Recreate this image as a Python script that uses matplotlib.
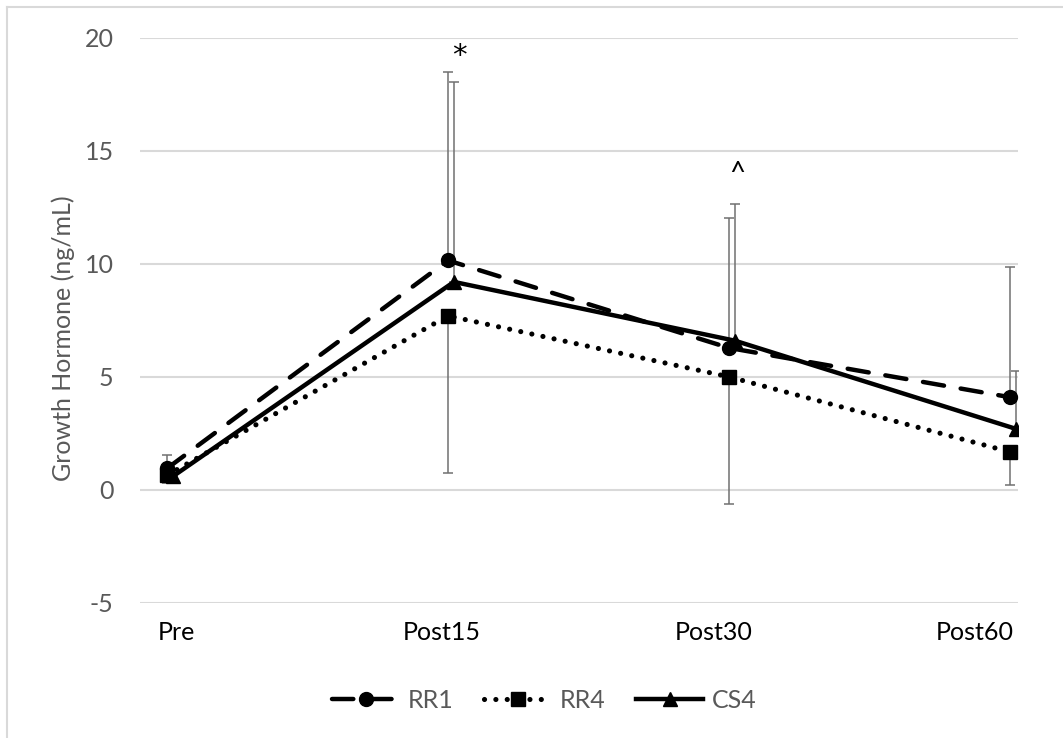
import matplotlib
matplotlib.use('Agg')
import matplotlib.pyplot as plt
from matplotlib.lines import Line2D
import numpy as np

plt.rcParams['font.family'] = ['Lato', 'DejaVu Sans']
plt.rcParams['axes.unicode_minus'] = False

timepoints = ['Pre', 'Post15', 'Post30', 'Post60']

# group means (ng/mL)
rr1 = [0.95, 10.15, 6.28, 4.1]
rr4 = [0.65, 7.7, 5.0, 1.68]
cs4 = [0.6, 9.2, 6.6, 2.7]

# one-sided SD bars: RR1 and CS4 upward, RR4 downward
rr1_err_up = [0.6, 8.35, 5.75, 5.77]
rr4_err_down = [0.35, 6.95, 5.62, 1.46]
cs4_err_up = [0.3, 8.85, 6.05, 2.57]

# significance marks
sig_marks = ['*', '^']
sig_index = [1, 2]
sig_y = [18.85, 13.6]

grid_col = '#d9d9d9'
text_col = '#595959'
err_col = '#707070'


def main():
    fig = plt.figure(figsize=(10.63, 7.38), dpi=100)
    ax = fig.add_axes([140 / 1063, 135 / 738, 878 / 1063, 565.3 / 738])

    x = np.arange(len(timepoints))
    x_cs = x + 0.021  # CS4 sits slightly to the right

    lw = 3.2
    ax.errorbar(x, rr1, yerr=[np.zeros(4), rr1_err_up], fmt='none',
                ecolor=err_col, elinewidth=1.1, capsize=3.6, capthick=1.1, zorder=2)
    ax.errorbar(x, rr4, yerr=[rr4_err_down, np.zeros(4)], fmt='none',
                ecolor=err_col, elinewidth=1.1, capsize=3.6, capthick=1.1, zorder=2)
    ax.errorbar(x_cs, cs4, yerr=[np.zeros(4), cs4_err_up], fmt='none',
                ecolor=err_col, elinewidth=1.1, capsize=3.6, capthick=1.1, zorder=2)

    ax.plot(x, rr1, color='black', lw=lw, linestyle=(0, (4.8, 3.8)),
            dash_capstyle='round', marker='o', markersize=10, label='RR1', zorder=4)
    ax.plot(x, rr4, color='black', lw=3.7, linestyle=(0, (0.01, 2.2)),
            dash_capstyle='round', marker='s', markersize=10, label='RR4', zorder=4)
    ax.plot(x_cs, cs4, color='black', lw=lw, linestyle='-',
            marker='^', markersize=10, label='CS4', zorder=4)

    for m, i, y in zip(sig_marks, sig_index, sig_y):
        if m == '*':
            ax.text(i + 0.04, y, m, fontsize=21, family='DejaVu Sans',
                    ha='center', va='baseline', color='black')
        else:
            ax.text(i + 0.03, y, m, fontsize=20,
                    ha='center', va='baseline', color='black')

    ax.set_xlim(-0.096, 3.028)
    ax.set_ylim(-5, 20)
    ax.set_yticks(np.arange(-5, 21, 5))
    ax.set_xticks([0.032, 0.979, 1.947, 2.875])
    ax.set_xticklabels(timepoints)
    ax.tick_params(axis='x', length=0, pad=13, labelsize=18, labelcolor='black')
    ax.tick_params(axis='y', length=0, pad=19, labelsize=18, labelcolor=text_col)
    ax.grid(axis='y', color=grid_col, lw=1.5)
    ax.set_axisbelow(True)
    for s in ax.spines.values():
        s.set_visible(False)

    ax.set_ylabel('Growth Hormone (ng/mL)', fontsize=18, color=text_col)
    ax.yaxis.set_label_coords(-0.074, 0.469)

    leg = fig.legend(loc='center', bbox_to_anchor=(0.512, 1 - 700 / 738), ncol=3,
                     frameon=False, fontsize=18, handlelength=2.7,
                     handletextpad=0.35, columnspacing=1.2)
    for t in leg.get_texts():
        t.set_color(text_col)

    # chart-area border (left and top edges)
    fx, fy = 7 / 1063, 1 - 7 / 738
    fig.add_artist(Line2D([fx, fx], [0, fy], color=grid_col, lw=1.5))
    fig.add_artist(Line2D([fx, 1], [fy, fy], color=grid_col, lw=1.5))

    fig.savefig('out.png', dpi=100)


if __name__ == '__main__':
    main()
